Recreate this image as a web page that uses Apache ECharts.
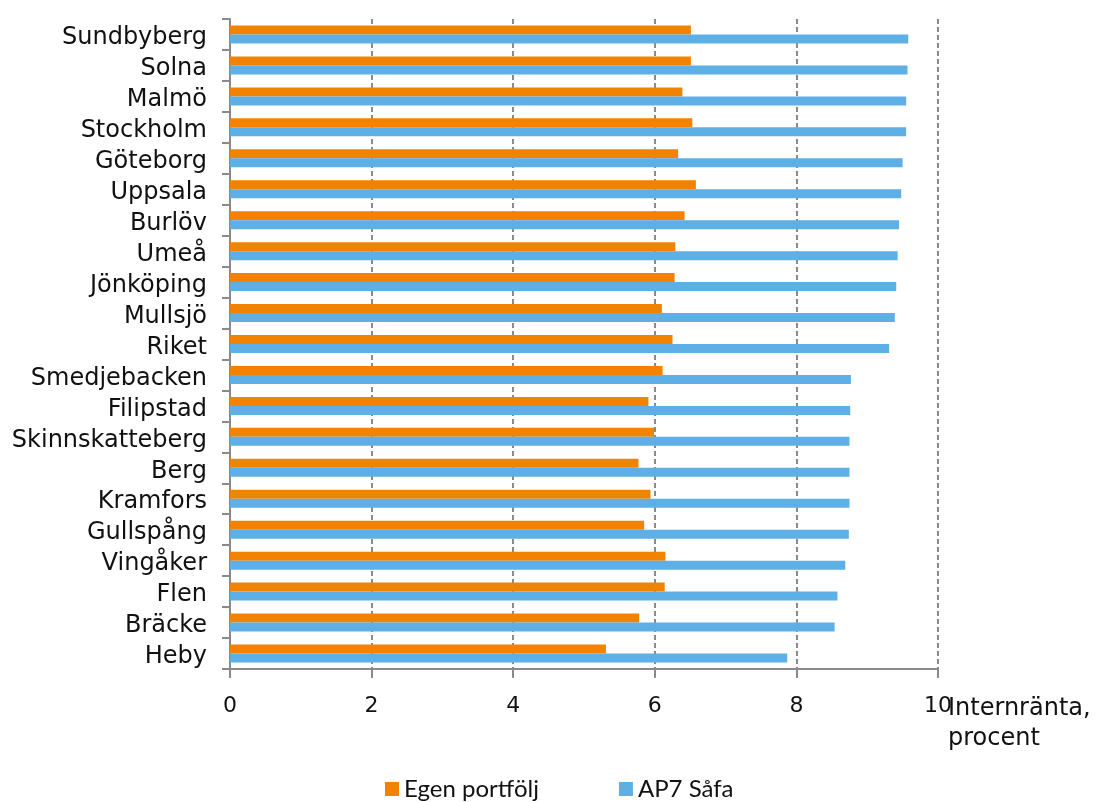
<!DOCTYPE html>
<html>
<head>
<meta charset="utf-8">
<script src="https://cdn.jsdelivr.net/npm/echarts@6/dist/echarts.min.js"></script>
<style>
  html, body { margin: 0; padding: 0; background: #fff; }
  #chart { width: 1095px; height: 802px; }
</style>
</head>
<body>
<div id="chart"></div>
<script>
// Kommuner, listed top to bottom
const categories = [
  'Sundbyberg', 'Solna', 'Malmö', 'Stockholm', 'Göteborg', 'Uppsala', 'Burlöv',
  'Umeå', 'Jönköping', 'Mullsjö', 'Riket', 'Smedjebacken', 'Filipstad',
  'Skinnskatteberg', 'Berg', 'Kramfors', 'Gullspång', 'Vingåker', 'Flen',
  'Bräcke', 'Heby'
];

// Internränta, procent
const egenPortfolj = [
  6.51, 6.51, 6.39, 6.53, 6.33, 6.58, 6.42,
  6.29, 6.28, 6.10, 6.25, 6.11, 5.91,
  5.99, 5.77, 5.94, 5.85, 6.15, 6.14,
  5.78, 5.31
];
const ap7Safa = [
  9.58, 9.57, 9.55, 9.55, 9.50, 9.48, 9.45,
  9.43, 9.41, 9.39, 9.31, 8.77, 8.76,
  8.75, 8.75, 8.75, 8.74, 8.69, 8.58,
  8.54, 7.87
];

const seriesNames = ['Egen portfölj', 'AP7 Såfa'];
const xTicks = { min: 0, max: 10, interval: 2 };
const axisTitle = 'Internränta,\nprocent';

const labelFont = 'DejaVu Sans';
const axisGrey = '#8a8a8a';

const chart = echarts.init(document.getElementById('chart'), null, { renderer: 'canvas' });

chart.setOption({
  animation: false,
  backgroundColor: '#ffffff',
  grid: { left: 230, right: 157, top: 19, bottom: 133, containLabel: false },
  legend: {
    data: seriesNames,
    left: 380,
    top: 772,
    itemWidth: 14,
    itemHeight: 14,
    itemGap: 80,
    itemTextGap: 8,
    icon: 'rect',
    textStyle: { fontFamily: 'Lato', fontSize: 24, color: '#111' }
  },
  xAxis: {
    type: 'value',
    min: xTicks.min,
    max: xTicks.max,
    interval: xTicks.interval,
    axisLine: { show: true, lineStyle: { color: axisGrey, width: 2 } },
    axisTick: { show: true, length: 9, lineStyle: { color: axisGrey, width: 2 } },
    axisLabel: { fontFamily: labelFont, fontSize: 22, color: '#111', margin: 26 },
    splitLine: {
      show: true,
      lineStyle: { color: axisGrey, width: 2, type: [5, 3] }
    }
  },
  yAxis: {
    type: 'category',
    data: categories,
    inverse: true,
    axisLine: { show: true, lineStyle: { color: axisGrey, width: 2 } },
    axisTick: { show: true, length: 8, lineStyle: { color: axisGrey, width: 2 } },
    axisLabel: {
      interval: 0,
      hideOverlap: false,
      color: '#111',
      margin: 23,
      formatter: '{c|{value}}',
      rich: {
        c: {
          fontFamily: labelFont,
          fontSize: 24,
          lineHeight: 24,
          color: '#111',
          padding: [7, 0, 0, 0]
        }
      }
    }
  },
  graphic: [{
    type: 'text',
    left: 948,
    top: 694,
    style: {
      text: axisTitle,
      fontFamily: labelFont,
      fontSize: 24,
      lineHeight: 30,
      fill: '#111'
    }
  }],
  series: [
    {
      name: seriesNames[0],
      type: 'bar',
      data: egenPortfolj,
      barWidth: 9,
      barGap: '0%',
      itemStyle: { color: '#F28300' }
    },
    {
      name: seriesNames[1],
      type: 'bar',
      data: ap7Safa,
      barWidth: 9,
      barGap: '0%',
      itemStyle: { color: '#5DAFE6' }
    }
  ]
});
</script>
</body>
</html>
